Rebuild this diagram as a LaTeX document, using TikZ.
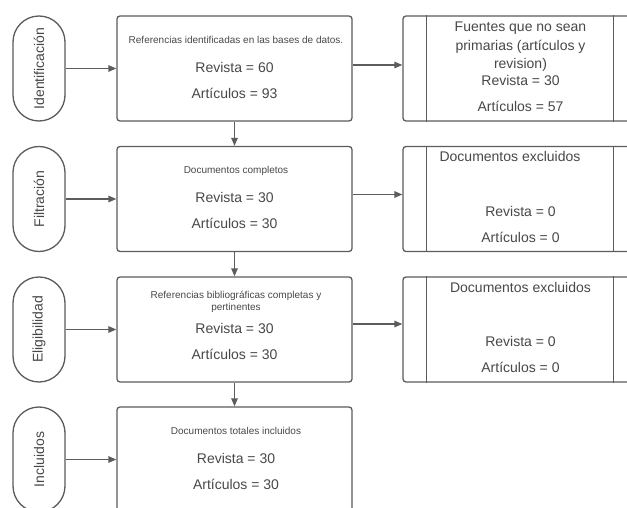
\documentclass[tikz,border=0pt]{standalone}
\usepackage{fontspec}
\setmainfont{Liberation Sans}
\usetikzlibrary{arrows.meta}
\definecolor{linec}{RGB}{92,92,92}
\definecolor{txtc}{RGB}{72,72,72}
\begin{document}
\begin{tikzpicture}[x=1pt,y=-1pt,
  box/.style={draw=linec,line width=1.3pt,rounded corners=3pt,minimum width=235pt,minimum height=105pt,inner sep=0},
  pill/.style={draw=linec,line width=1.3pt,rounded corners=26pt,minimum width=52pt,minimum height=105pt,inner sep=0},
  side/.style={draw=linec,line width=1.3pt,rounded corners=3pt,minimum width=250pt,minimum height=105pt,inner sep=0},
  big/.style={text=txtc,font=\fontsize{14}{17}\selectfont,inner sep=0,anchor=base},
  small/.style={text=txtc,font=\fontsize{10}{12}\selectfont,inner sep=0,anchor=base},
  lbl/.style={text=txtc,font=\fontsize{14}{17}\selectfont,inner sep=0,rotate=90},
  arr/.style={draw=linec,line width=1.3pt,-{Triangle[length=8pt,width=6.5pt]}},
  divider/.style={draw=linec,line width=1.3pt}
]
\useasboundingbox (0,0) rectangle (627,508);
\fill[white] (0,0) rectangle (627,508);
\clip (0,0) rectangle (627,508);

% pills
\node[pill] (p1) at (39,68.5) {};
\node[pill] (p2) at (39,199) {};
\node[pill] (p3) at (39,329.5) {};
\node[pill] (p4) at (39,459.5) {};
\node[lbl] (l1) at (p1.center) {Identificación};
\node[lbl] (l2) at (p2.center) {Filtración};
\node[lbl] (l3) at (p3.center) {Eligibilidad};
\node[lbl] (l4) at (p4.center) {Incluidos};

% main boxes
\node[box] (m1) at (234.5,68.5) {};
\node[box] (m2) at (234.5,199) {};
\node[box] (m3) at (234.5,329.5) {};
\node[box] (m4) at (234.5,459.5) {};

\node[small] (a1) at (236,43.5) {Referencias identificadas en las bases de datos.};
\node[big] (a2) at (234.5,73) {Revista = 60};
\node[big] (a3) at (234.5,99) {Artículos = 93};

\node[small] (b1) at (236,173.5) {Documentos completos};
\node[big] (b2) at (234.5,203) {Revista = 30};
\node[big] (b3) at (234.5,229) {Artículos = 30};

\node[small] (c1) at (236,298.5) {Referencias bibliográficas completas y};
\node[small] (c1b) at (236,310.5) {pertinentes};
\node[big] (c2) at (234.5,333) {Revista = 30};
\node[big] (c3) at (234.5,359) {Artículos = 30};

\node[small] (d1) at (236,434.5) {Documentos totales incluidos};
\node[big] (d2) at (236,463) {Revista = 30};
\node[big] (d3) at (236,489) {Artículos = 30};

% side boxes
\node[side] (r1) at (528,68.5) {};
\node[side] (r2) at (528,199) {};
\node[side] (r3) at (528,329.5) {};
\foreach \r in {r1,r2,r3}{
  \draw[divider] ([xshift=24pt]\r.north west) -- ([xshift=24pt]\r.south west);
  \draw[divider] ([xshift=211pt]\r.north west) -- ([xshift=211pt]\r.south west);
}

\node[big] (e1) at (520.5,32) {Fuentes que no sean};
\node[big] (e2) at (520.5,50.5) {primarias (artículos y};
\node[big] (e3) at (520.5,68.5) {revision)};
\node[big] (e4) at (520.5,86) {Revista = 30};
\node[big] (e5) at (520.5,112) {Artículos = 57};

\node[big] (f1) at (510,162) {Documentos excluidos};
\node[big] (f2) at (520.5,216) {Revista = 0};
\node[big] (f3) at (520.5,243) {Artículos = 0};

\node[big] (g1) at (520.5,292) {Documentos excluidos};
\node[big] (g2) at (520.5,346) {Revista = 0};
\node[big] (g3) at (520.5,372) {Artículos = 0};

% connectors
\draw[arr] (p1.east) -- (m1.west);
\draw[arr] (p2.east) -- (m2.west);
\draw[arr] (p3.east) -- (m3.west);
\draw[arr] (p4.east) -- (m4.west);
\draw[arr] (m1.south) -- (m2.north);
\draw[arr] (m2.south) -- (m3.north);
\draw[arr] (m3.south) -- (m4.north);
\draw[arr] ([yshift=3.5pt]m1.east) -- ([yshift=3.5pt]r1.west);
\draw[arr] ([yshift=4.5pt]m2.east) -- ([yshift=4.5pt]r2.west);
\draw[arr] ([yshift=5.5pt]m3.east) -- ([yshift=5.5pt]r3.west);
\end{tikzpicture}
\end{document}
